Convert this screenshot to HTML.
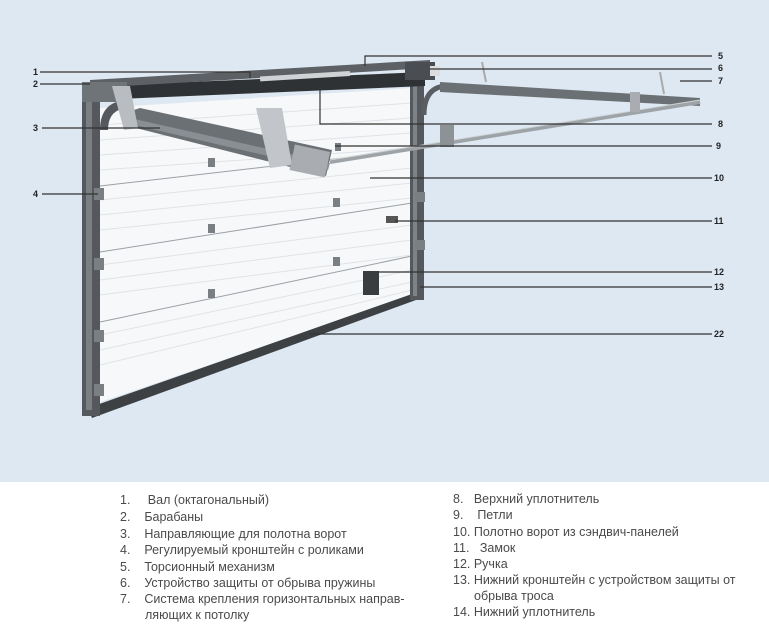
<!DOCTYPE html>
<html><head><meta charset="utf-8"><style>
body{margin:0;width:769px;height:633px;overflow:hidden;background:#fff;font-family:"Liberation Sans","DejaVu Sans",sans-serif}
.lg{position:absolute;font-size:12.5px;color:#4a4a4a;white-space:nowrap}
</style></head><body>
<svg width="769" height="633" style="position:absolute;left:0;top:0">
<rect x="0" y="0" width="769" height="482" fill="#dde8f2"/>
<!-- door panel -->
<polygon points="100,108 412,88 412,296 100,402" fill="#f7f8f9"/>
<g stroke="#dfe3e8" stroke-width="1">
<line x1="100" y1="125" x2="412" y2="103"/><line x1="100" y1="140" x2="412" y2="118"/>
<line x1="100" y1="155" x2="412" y2="133"/><line x1="100" y1="170" x2="412" y2="148"/>
<line x1="100" y1="200" x2="412" y2="168"/><line x1="100" y1="215" x2="412" y2="183"/>
<line x1="100" y1="230" x2="412" y2="198"/><line x1="100" y1="265" x2="412" y2="225"/>
<line x1="100" y1="280" x2="412" y2="240"/><line x1="100" y1="295" x2="412" y2="255"/>
<line x1="100" y1="335" x2="412" y2="270"/><line x1="100" y1="350" x2="412" y2="282"/>
<line x1="100" y1="365" x2="412" y2="290"/>
</g>
<g stroke="#9aa0a6" stroke-width="1">
<line x1="100" y1="186" x2="412" y2="150"/><line x1="100" y1="252" x2="412" y2="203"/><line x1="100" y1="322" x2="412" y2="256"/>
</g>
<!-- bottom seal -->
<polygon points="88,408 412,294 416,300 92,418" fill="#3e4144"/>
<!-- left frame -->
<rect x="82" y="86" width="18" height="330" fill="#55595d"/>
<rect x="86" y="90" width="6" height="320" fill="#7a7f84"/>
<path d="M100,130 Q100,100 130,100 L130,108 Q108,108 108,130 Z" fill="#55595d"/>
<!-- right frame -->
<rect x="410" y="82" width="14" height="218" fill="#55595d"/>
<rect x="413" y="86" width="4" height="210" fill="#7e8388"/>
<!-- top beam & shaft -->
<polygon points="95,86 425,72 425,86 95,100" fill="#2f3235"/>
<polygon points="90,80 430,60 430,68 90,88" fill="#5d6165"/>
<rect x="260" y="74" width="90" height="5" fill="#cfd3d6" transform="rotate(-3.5 300 76)"/>
<rect x="82" y="82" width="45" height="20" fill="#6f7478"/>
<rect x="405" y="62" width="30" height="18" fill="#4a4e52"/>
<rect x="430" y="66" width="10" height="10" fill="#ddd"/>
<!-- left track -->
<polygon points="128,112 140,108 332,150 326,176 128,126" fill="#6b7075"/>
<polygon points="130,118 330,163 328,170 130,124" fill="#8a8f94"/>
<polygon points="112,86 130,86 138,128 124,130" fill="#b9bdc1"/>
<polygon points="256,108 282,108 292,165 270,168" fill="#c2c6ca"/>
<rect x="292" y="148" width="36" height="26" fill="#a9adb1" transform="rotate(12 310 160)"/>
<!-- right track -->
<path d="M424,115 Q424,88 445,86" stroke="#5a5e62" stroke-width="5" fill="none"/>
<polygon points="440,82 700,98 700,106 440,92" fill="#6b7075"/>
<line x1="330" y1="162" x2="700" y2="102" stroke="#9ea3a8" stroke-width="4"/>
<line x1="330" y1="160" x2="700" y2="100" stroke="#cfd3d6" stroke-width="1"/>
<rect x="630" y="92" width="10" height="20" fill="#a9adb1"/>
<rect x="440" y="125" width="14" height="22" fill="#8d9297"/>
<line x1="482" y1="62" x2="486" y2="82" stroke="#aaa" stroke-width="2"/>
<line x1="660" y1="72" x2="664" y2="94" stroke="#aaa" stroke-width="2"/>
<!-- hardware -->
<g fill="#7a7f84">
<rect x="208" y="158" width="7" height="9"/><rect x="333" y="198" width="7" height="9"/>
<rect x="208" y="224" width="7" height="9"/><rect x="333" y="257" width="7" height="9"/>
<rect x="208" y="289" width="7" height="9"/><rect x="335" y="143" width="6" height="8"/>
<rect x="94" y="188" width="10" height="12"/><rect x="94" y="258" width="10" height="12"/>
<rect x="94" y="330" width="10" height="12"/><rect x="94" y="384" width="10" height="12"/>
<rect x="415" y="192" width="10" height="10"/><rect x="415" y="240" width="10" height="10"/>
</g>
<rect x="386" y="216" width="12" height="7" fill="#555"/>
<rect x="363" y="271" width="16" height="24" fill="#3a3d40"/>
<!-- leader lines -->
<g stroke="#333" stroke-width="1.2" fill="none">
<polyline points="40,72 250,72 250,78"/>
<line x1="40" y1="84" x2="90" y2="84"/>
<line x1="42" y1="128" x2="160" y2="128"/>
<line x1="42" y1="194" x2="98" y2="194"/>
<polyline points="365,66 365,56 712,56"/>
<line x1="430" y1="69" x2="712" y2="69"/>
<line x1="680" y1="81" x2="712" y2="81"/>
<polyline points="320,88 320,124 712,124"/>
<line x1="335" y1="146" x2="712" y2="146"/>
<line x1="370" y1="178" x2="712" y2="178"/>
<line x1="395" y1="221" x2="712" y2="221"/>
<line x1="378" y1="272" x2="712" y2="272"/>
<line x1="420" y1="287" x2="712" y2="287"/>
<line x1="310" y1="334" x2="712" y2="334"/>
</g>
<g font-family="Liberation Sans,sans-serif" font-size="9" font-weight="bold" fill="#222">
<text x="33" y="75">1</text><text x="33" y="87">2</text><text x="33" y="131">3</text><text x="33" y="197">4</text>
<text x="718" y="59">5</text><text x="718" y="71">6</text><text x="718" y="84">7</text><text x="718" y="127">8</text>
<text x="716" y="149">9</text><text x="714" y="181">10</text><text x="714" y="224">11</text><text x="714" y="275">12</text>
<text x="714" y="290">13</text><text x="714" y="337">22</text>
</g>
</svg>
<div class="lg" style="left:120px;top:493px">1.&nbsp;&nbsp;&nbsp;&nbsp;&nbsp;Вал (октагональный)</div>
<div class="lg" style="left:120px;top:510px">2.&nbsp;&nbsp;&nbsp;&nbsp;Барабаны</div>
<div class="lg" style="left:120px;top:527px">3.&nbsp;&nbsp;&nbsp;&nbsp;Направляющие для полотна ворот</div>
<div class="lg" style="left:120px;top:543px">4.&nbsp;&nbsp;&nbsp;&nbsp;Регулируемый кронштейн с роликами</div>
<div class="lg" style="left:120px;top:560px">5.&nbsp;&nbsp;&nbsp;&nbsp;Торсионный механизм</div>
<div class="lg" style="left:120px;top:576px">6.&nbsp;&nbsp;&nbsp;&nbsp;Устройство защиты от обрыва пружины</div>
<div class="lg" style="left:120px;top:592px">7.&nbsp;&nbsp;&nbsp;&nbsp;Система крепления горизонтальных направ-</div>
<div class="lg" style="left:145px;top:608px">ляющих к потолку</div>
<div class="lg" style="left:453px;top:492px">8.&nbsp;&nbsp;&nbsp;Верхний уплотнитель</div>
<div class="lg" style="left:453px;top:508px">9.&nbsp;&nbsp;&nbsp;&nbsp;Петли</div>
<div class="lg" style="left:453px;top:525px">10.&nbsp;Полотно ворот из сэндвич-панелей</div>
<div class="lg" style="left:453px;top:541px">11.&nbsp;&nbsp;&nbsp;Замок</div>
<div class="lg" style="left:453px;top:557px">12.&nbsp;Ручка</div>
<div class="lg" style="left:453px;top:573px">13.&nbsp;Нижний кронштейн с устройством защиты от</div>
<div class="lg" style="left:474px;top:589px">обрыва троса</div>
<div class="lg" style="left:453px;top:605px">14.&nbsp;Нижний уплотнитель</div>
</body></html>
